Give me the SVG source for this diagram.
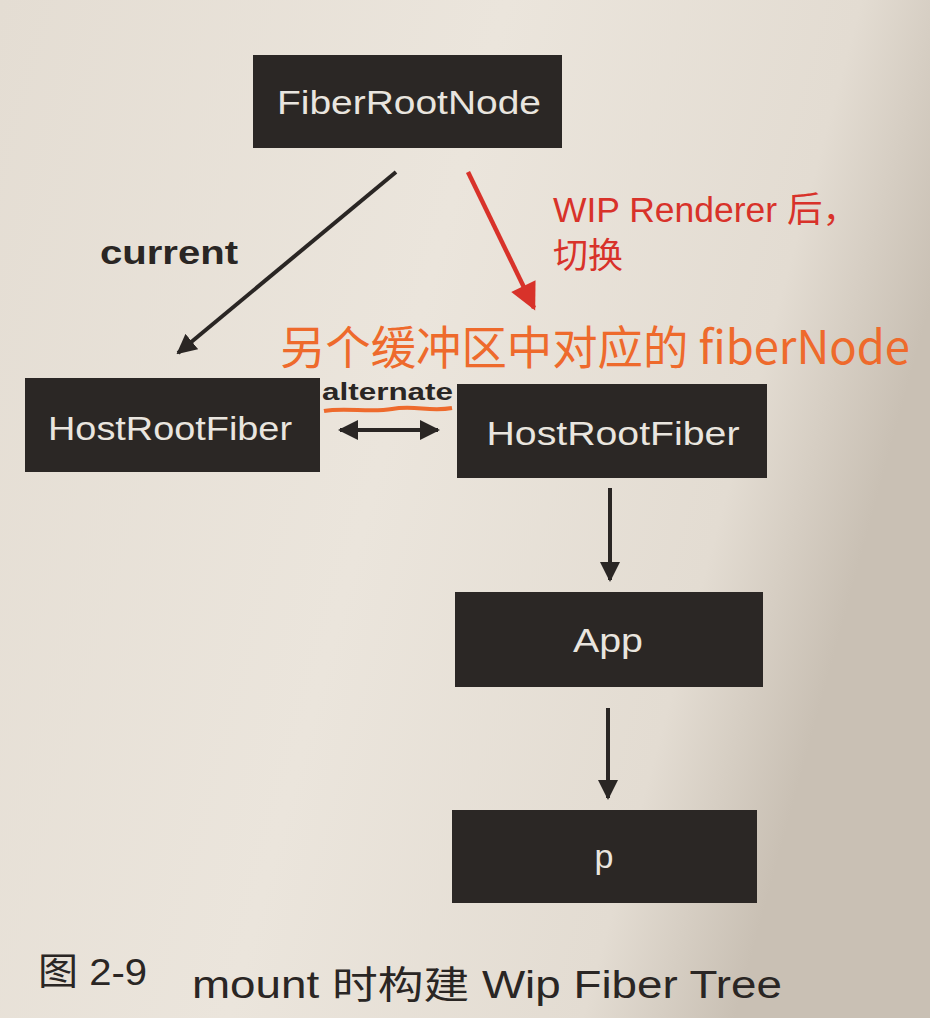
<svg xmlns="http://www.w3.org/2000/svg" width="930" height="1018" viewBox="0 0 930 1018">
  <defs>
    <linearGradient id="bg" x1="0" y1="0" x2="1" y2="0.3">
      <stop offset="0" stop-color="#e4ddd3"/>
      <stop offset="0.5" stop-color="#ebe5dc"/>
      <stop offset="0.85" stop-color="#e3dcd2"/>
      <stop offset="1" stop-color="#c9c0b4"/>
    </linearGradient>
    <marker id="ah" viewBox="0 0 10 10" refX="9" refY="5" markerWidth="5" markerHeight="5" orient="auto-start-reverse" markerUnits="strokeWidth">
      <path d="M0,0 L10,5 L0,10 z" fill="#2a2624"/>
    </marker>
    <marker id="ahr" viewBox="0 0 10 10" refX="9" refY="5" markerWidth="6.5" markerHeight="6" orient="auto" markerUnits="strokeWidth">
      <path d="M0,0 L10,5 L0,10 z" fill="#d8322a"/>
    </marker>
  </defs>
  <style>
    .box { fill: #2b2725; }
    .lbl { font-family: "Liberation Sans", Arial, sans-serif; font-size: 34px; fill: #e9e5df; text-anchor: middle; }
    .edge { stroke: #2a2624; stroke-width: 4; fill: none; }
    .red { fill: #d8322a; font-family: "Liberation Sans", "Noto Sans CJK SC", sans-serif; font-size: 35px; }
    .hand { fill: #ee6a2c; font-family: "Noto Sans CJK SC", sans-serif; font-size: 46px; }
    .cap { fill: #2a2624; font-family: "Liberation Sans", "Noto Sans CJK SC", sans-serif; }
  </style>
  <rect width="930" height="1018" fill="url(#bg)"/>

  <g id="connectors">
    <line class="edge" x1="396" y1="172" x2="178" y2="353" marker-end="url(#ah)"/>
    <line x1="468" y1="172" x2="534" y2="308" stroke="#d8322a" stroke-width="4.5" marker-end="url(#ahr)"/>
    <line class="edge" x1="340" y1="430" x2="438" y2="430" stroke-width="4" marker-start="url(#ah)" marker-end="url(#ah)"/>
    <line class="edge" x1="610" y1="488" x2="610" y2="580" marker-end="url(#ah)"/>
    <line class="edge" x1="608" y1="708" x2="608" y2="798" marker-end="url(#ah)"/>
  </g>

  <g id="FiberRootNode">
    <rect class="box" x="253" y="55" width="309" height="93"/>
    <text class="lbl" x="409" y="114" textLength="264" lengthAdjust="spacingAndGlyphs">FiberRootNode</text>
  </g>
  <g id="HostRootFiberCurrent">
    <rect class="box" x="25" y="378" width="295" height="94"/>
    <text class="lbl" x="170" y="440" textLength="244" lengthAdjust="spacingAndGlyphs">HostRootFiber</text>
  </g>
  <g id="HostRootFiberWip">
    <rect class="box" x="457" y="384" width="310" height="94"/>
    <text class="lbl" x="613" y="445" textLength="253" lengthAdjust="spacingAndGlyphs">HostRootFiber</text>
  </g>
  <g id="App">
    <rect class="box" x="455" y="592" width="308" height="95"/>
    <text class="lbl" x="608" y="652" textLength="70" lengthAdjust="spacingAndGlyphs">App</text>
  </g>
  <g id="p">
    <rect class="box" x="452" y="810" width="305" height="93"/>
    <text class="lbl" x="604" y="868">p</text>
  </g>

  <g id="labels">
    <text x="100" y="264" font-family="Liberation Sans, Arial, sans-serif" font-size="33" font-weight="bold" fill="#2a2624" textLength="138" lengthAdjust="spacingAndGlyphs">current</text>
    <text x="322" y="400" font-family="Liberation Sans, Arial, sans-serif" font-size="23" font-weight="bold" fill="#2a2624" textLength="131" lengthAdjust="spacingAndGlyphs">alternate</text>
    <path d="M324,411 C345,407 370,413 392,409 S430,412 452,408" stroke="#ee6a2c" stroke-width="4" fill="none"/>
    <text class="red" x="553" y="222" textLength="305" lengthAdjust="spacingAndGlyphs">WIP Renderer 后，</text>
    <text class="red" x="553" y="268">切换</text>
    <text class="hand" x="280" y="364" textLength="630" lengthAdjust="spacingAndGlyphs">另个缓冲区中对应的 fiberNode</text>
  </g>

  <g id="caption">
    <text class="cap" x="38" y="985" font-size="37" textLength="109" lengthAdjust="spacingAndGlyphs">图 2-9</text>
    <text class="cap" x="192" y="998" font-size="38" textLength="590" lengthAdjust="spacingAndGlyphs">mount 时构建 Wip Fiber Tree</text>
  </g>
</svg>
